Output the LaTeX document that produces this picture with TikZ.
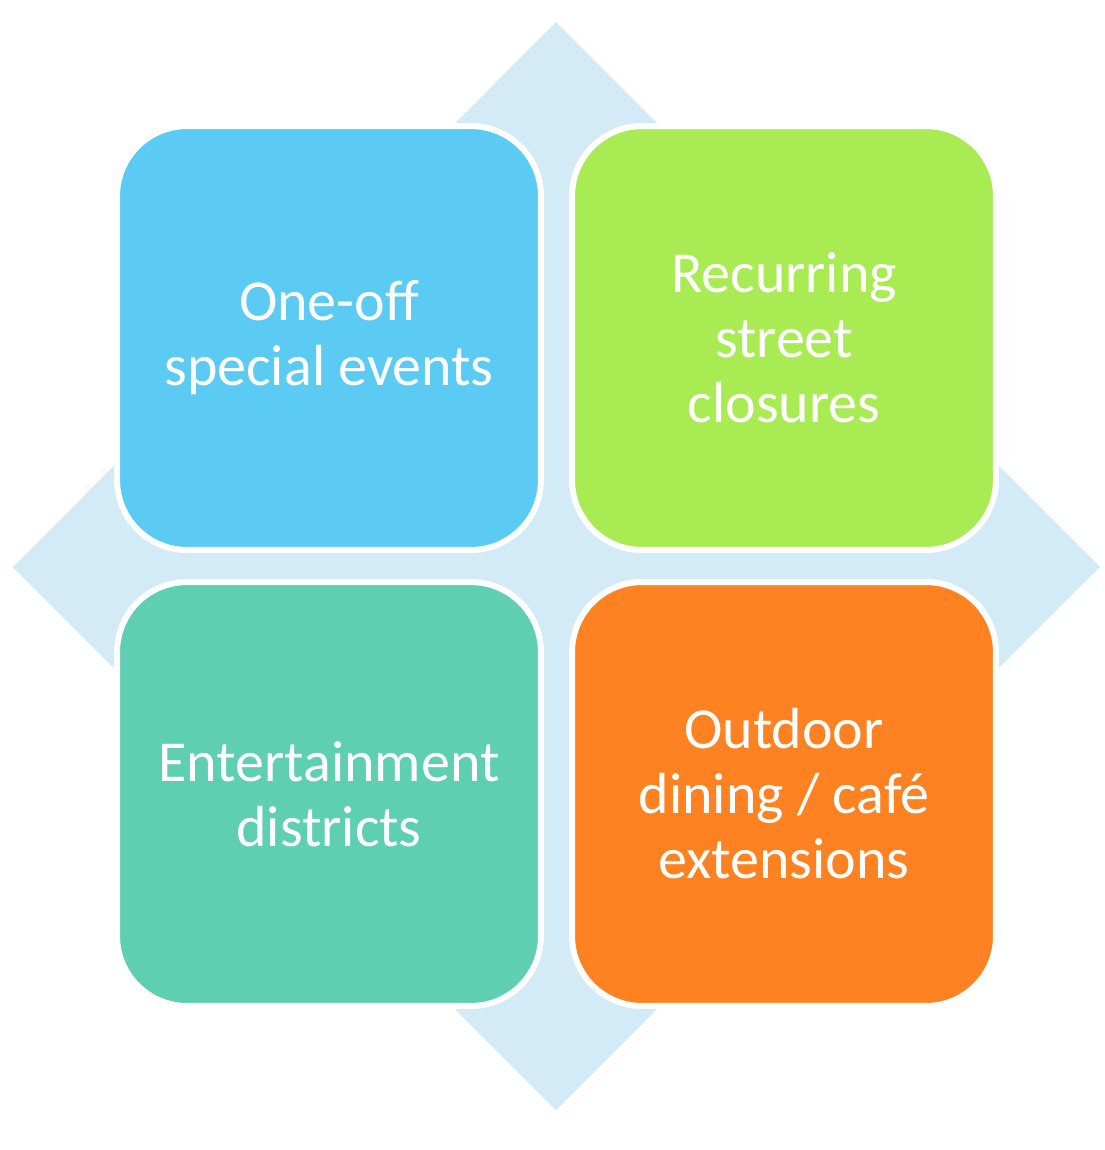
\documentclass[tikz,border=0pt]{standalone}
\usepackage{fontspec}
\setmainfont{Carlito}
\definecolor{diamondblue}{HTML}{D3EBF7}
\definecolor{skyblue}{HTML}{5BCBF3}
\definecolor{limegreen}{HTML}{A9EB53}
\definecolor{seagreen}{HTML}{5ECFB1}
\definecolor{brightorange}{HTML}{FE8221}
\begin{document}
\begin{tikzpicture}[x=0.02cm, y=-0.02cm,
    quad/.style={draw=white, line width=3.4pt, rounded corners=1.4cm,
        minimum width=8.48cm, minimum height=8.48cm, text=white,
        align=center, font=\fontsize{33}{37}\selectfont}]
    \useasboundingbox (0, 0) rectangle (1105, 1150);

    % background diamond
    \fill[diamondblue] (556, 22) -- (1100, 567) -- (556, 1110) -- (13, 567) -- cycle;

    \node[quad, fill=skyblue] (oneoff) at (329, 338) {One-off\\special events};
    \node[quad, fill=limegreen] (recurring) at (784, 338) {Recurring\\street\\closures};
    \node[quad, fill=seagreen] (entertain) at (329, 794) {Entertainment\\districts};
    \node[quad, fill=brightorange] (outdoor) at (784, 794) {Outdoor\\dining / café\\extensions};

\end{tikzpicture}
\end{document}
